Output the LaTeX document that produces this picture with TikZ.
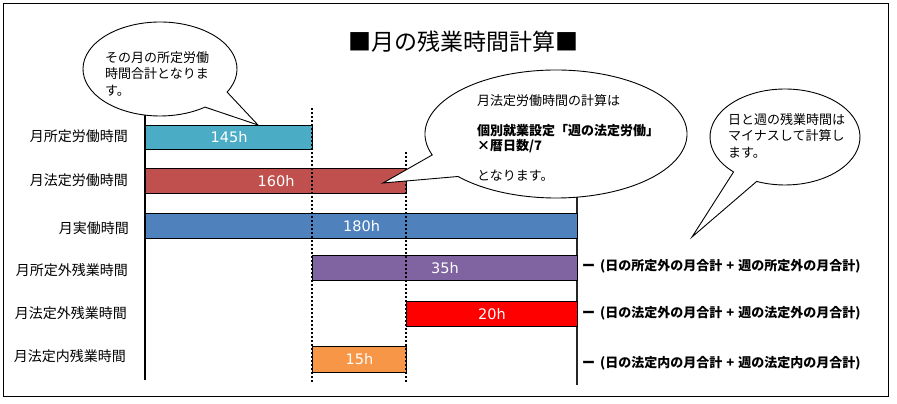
\documentclass[tikz,border=0pt]{standalone}
\usepackage{fontspec}
\setmainfont{Noto Sans CJK JP}
\newfontfamily\latinf{DejaVu Sans}
\definecolor{cteal}{HTML}{4BACC6}
\definecolor{cred}{HTML}{C0504D}
\definecolor{cblue}{HTML}{4F81BD}
\definecolor{cpurple}{HTML}{8064A2}
\definecolor{cbright}{HTML}{FF0000}
\definecolor{corange}{HTML}{F79646}
\newcommand{\plussep}{\hspace{4pt}+\hspace{4pt}}
\begin{document}
\begin{tikzpicture}[x=1pt,y=1pt,
  bar/.style={draw=black,line width=1.1pt,anchor=north west,minimum height=25pt,inner sep=0pt,
    text=white,font=\latinf\fontsize{14.5}{16}\selectfont},
  rowlabel/.style={anchor=east,inner sep=0pt,font=\fontsize{14}{16}\selectfont},
  formula/.style={anchor=west,inner sep=0pt,font=\bfseries\fontsize{13}{15}\selectfont},
  guide/.style={line width=1.9pt,dash pattern=on 2pt off 2pt},
  balloon/.style={draw=black,fill=white,line width=0.9pt,line join=miter},
  btext/.style={anchor=west,inner sep=0pt,align=left,font=\fontsize{13}{16.5}\selectfont}]
\useasboundingbox (0,0) rectangle (897,-404);
\fill[white] (0,0) rectangle (897,-404);
\draw[line width=1pt] (3,-4) rectangle (888,-396);

% title
\node[inner sep=0pt,font=\fontsize{23}{26}\selectfont] (title) at (463,-42) {■月の残業時間計算■};

% row labels
\node[rowlabel] (l1) at (128,-136) {月所定労働時間};
\node[rowlabel] (l2) at (128,-180) {月法定労働時間};
\node[rowlabel] (l3) at (129,-228) {月実働時間};
\node[rowlabel] (l4) at (128,-270) {月所定外残業時間};
\node[rowlabel] (l5) at (127,-313) {月法定外残業時間};
\node[rowlabel] (l6) at (126,-356) {月法定内残業時間};

% axis lines
\draw[line width=1.6pt] (145,-100) -- (145,-380);
\draw[line width=1.3pt,black!85] (577,-170) -- (577,-385);

% bars
\node[bar,fill=cteal,minimum width=167pt,minimum height=24pt] (b145) at (145,-125) {145h};
\node[bar,fill=cred,minimum width=261pt] (b160) at (145,-168) {160h};
\node[bar,fill=cblue,minimum width=432pt] (b180) at (145,-213) {180h};
\node[bar,fill=cpurple,minimum width=265pt] (b35) at (312,-255) {35h};
\node[bar,fill=cbright,minimum width=171pt] (b20) at (406,-301) {20h};
\node[bar,fill=corange,minimum width=94pt,minimum height=26pt] (b15) at (312,-346) {15h};

% dotted guides
\draw[guide] (312,-108) -- (312,-383);
\draw[guide] (406,-152) -- (406,-383);

% formulas
\node[formula] (f1) at (582,-266) {ー\hspace{2pt} (日の所定外の月合計\plussep 週の所定外の月合計)};
\node[formula] (f2) at (582,-313) {ー\hspace{2pt} (日の法定外の月合計\plussep 週の法定外の月合計)};
\node[formula] (f3) at (582,-363) {ー\hspace{2pt} (日の法定内の月合計\plussep 週の法定内の月合計)};

% balloon 1
\coordinate (c1) at (160,-69);
\coordinate (t1) at (258,-125);
\draw[balloon] (t1) -- ([shift={(c1)}]-29.4:77pt and 47pt)
  arc[start angle=-29.4,end angle=305.8,x radius=77pt,y radius=47pt] -- cycle;
\node[btext] (bt1) at (105,-73.5) {その月の所定労働\\時間合計となりま\\す。};

% balloon 2
\coordinate (c2) at (556,-134);
\coordinate (t2) at (383,-183);
\draw[balloon] (t2) -- ([shift={(c2)}]199.1:131pt and 64pt)
  arc[start angle=199.1,end angle=-138.4,x radius=131pt,y radius=64pt] -- cycle;
\node[btext,font=\fontsize{13}{15}\selectfont] (bt2) at (477,-137.5)
  {月法定労働時間の計算は\\[15pt]{\bfseries 個別就業設定「週の法定労働」}\\{\bfseries ×暦日数/7}\\[15pt]となります。};

% balloon 3
\coordinate (c3) at (785,-137);
\coordinate (t3) at (692,-237);
\draw[balloon] (t3) -- ([shift={(c3)}]226.7:75pt and 48pt)
  arc[start angle=226.7,end angle=-112.2,x radius=75pt,y radius=48pt] -- cycle;
\node[btext] (bt3) at (728,-135.5) {日と週の残業時間は\\マイナスして計算し\\ます。};
\end{tikzpicture}
\end{document}
